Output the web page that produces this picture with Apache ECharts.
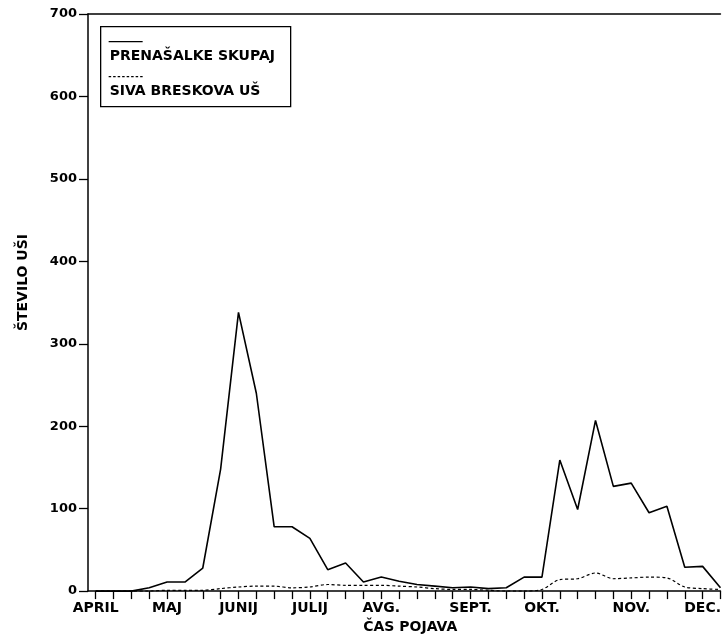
<!DOCTYPE html>
<html>
<head>
<meta charset="utf-8">
<script src="https://cdn.jsdelivr.net/npm/echarts@6/dist/echarts.min.js"></script>
<style>html,body{margin:0;padding:0;background:#fff}#c{width:724px;height:639px}</style>
</head>
<body>
<div id="c"></div>
<script>
// week index along the season (April .. December)
var weeks = [0,1,2,3,4,5,6,7,8,9,10,11,12,13,14,15,16,17,18,19,20,21,22,23,24,25,26,27,28,29,30,31,32,33,34,35];
var seriesNames = ['PRENAŠALKE SKUPAJ', 'SIVA BRESKOVA UŠ'];
var prenasalke = [0,0,0,4,11,11,28,148,338,240,78,78,64,26,34,11,17,12,8,6,4,5,3,4,17,17,159,99,207,127,131,95,103,29,30,4];
var siva = [0,0,0,0,1,1,1,3,5,6,6,4,5,8,7,7,7,6,5,3,2,2,1,0,0,2,14,15,22,15,16,17,16,5,3,2];
var monthNames = ['APRIL','MAJ','JUNIJ','JULIJ','AVG.','SEPT.','OKT.','NOV.','DEC.'];
var monthPos = [0,4,8,12,16,21,25,30,34];
var yTicks = [0,100,200,300,400,500,600,700];

function pairs(vals){ return weeks.map(function(w,i){ return [w, vals[i]]; }); }

var FONT = 'DejaVu Sans';
var chart = echarts.init(document.getElementById('c'));
chart.setOption({
  animation: false,
  backgroundColor: '#fff',
  grid: { left: 88, right: 2, top: 14, bottom: 42 },
  xAxis: [{
    type: 'value', min: -0.43, max: 35,
    name: 'ČAS POJAVA', nameLocation: 'middle', nameGap: 24,
    nameTextStyle: { fontFamily: FONT, fontWeight: 'bold', fontSize: 14, color: '#000', padding: [0,0,0,12] },
    axisLine: { show: true, onZero: false, lineStyle: { color: '#000', width: 1.5 } },
    axisTick: { show: true, inside: false, length: 8, customValues: weeks, lineStyle: { color: '#000', width: 1.3 } },
    axisLabel: { customValues: monthPos, margin: 10, color: '#000', fontFamily: FONT, fontWeight: 'bold', fontSize: 14,
      formatter: function(v){ var k = monthPos.indexOf(Math.round(v)); return k >= 0 ? monthNames[k] : ''; } },
    splitLine: { show: false }
  }, {
    type: 'value', position: 'top', min: -0.43, max: 35,
    axisLine: { show: true, onZero: false, lineStyle: { color: '#000', width: 1.5 } },
    axisTick: { show: false }, axisLabel: { show: false }, splitLine: { show: false }
  }],
  yAxis: {
    type: 'value', min: 0, max: 700, interval: 100,
    name: 'ŠTEVILO UŠI', nameLocation: 'middle', nameRotate: 90, nameGap: 58,
    nameTextStyle: { fontFamily: FONT, fontWeight: 'bold', fontSize: 14, color: '#000', padding: [0,0,0,40] },
    axisLine: { show: true, onZero: false, lineStyle: { color: '#000', width: 1.5 } },
    axisTick: { show: true, length: 9, lineStyle: { color: '#000', width: 1.3 } },
    axisLabel: { margin: 11, color: '#000', fontFamily: FONT, fontWeight: 'bold', fontSize: 13,
      customValues: yTicks },
    splitLine: { show: false }
  },
  series: [{
    name: seriesNames[0], type: 'line', data: pairs(prenasalke), showSymbol: false, symbol: 'none',
    lineStyle: { color: '#000', width: 1.6 }, z: 3
  }, {
    name: seriesNames[1], type: 'line', data: pairs(siva), showSymbol: false, symbol: 'none', smooth: 0.3,
    lineStyle: { color: '#000', width: 1.2, type: [3, 2.5] }, z: 2
  }],
  graphic: [{
    type: 'group', left: 100, top: 26,
    children: [
      { type: 'rect', shape: { x: 0, y: 0, width: 190, height: 80 }, style: { fill: '#fff', stroke: '#000', lineWidth: 1.3 } },
      { type: 'line', shape: { x1: 8, y1: 15, x2: 42, y2: 15 }, style: { stroke: '#000', lineWidth: 1.3 } },
      { type: 'text', left: 9, top: 23, style: { text: seriesNames[0], fill: '#000', font: 'bold 14px "DejaVu Sans"' } },
      { type: 'line', shape: { x1: 8, y1: 50, x2: 42, y2: 50 }, style: { stroke: '#000', lineWidth: 1.1, lineDash: [2.5, 2] } },
      { type: 'text', left: 9, top: 58, style: { text: seriesNames[1], fill: '#000', font: 'bold 14px "DejaVu Sans"' } }
    ]
  }]
});
</script>
</body>
</html>
